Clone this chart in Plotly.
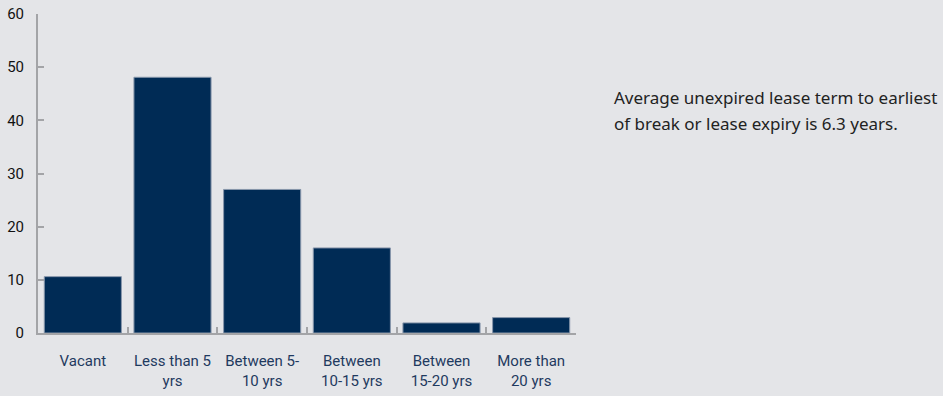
import plotly.graph_objects as go

categories = ["Vacant", "Less than 5<br>yrs", "Between 5-<br>10 yrs", "Between<br>10-15 yrs",
              "Between<br>15-20 yrs", "More than<br>20 yrs"]
values = [10.6, 48.1, 27, 16, 1.9, 2.9]
y_ticks = [0, 10, 20, 30, 40, 50, 60]
note_lines = ["Average unexpired lease term to earliest",
              "of break or lease expiry is 6.3 years."]

bg = "#e4e5e8"
fig = go.Figure(go.Bar(
    x=categories, y=values,
    marker=dict(color="#002b55", line=dict(color="#8796ab", width=1)),
    hoverinfo="skip",
))

fig.update_layout(
    width=943, height=396,
    margin=dict(l=38, r=367, t=14, b=63),
    paper_bgcolor=bg, plot_bgcolor=bg,
    bargap=0.14,
    showlegend=False,
    font=dict(family="Roboto", size=15, color="#111111"),
)
fig.update_xaxes(
    automargin=False,
    showline=True, linecolor="#a3a4a7", linewidth=2,
    ticks="inside", tickson="boundaries", ticklen=6, tickcolor="#a3a4a7", tickwidth=2,
    tickfont=dict(color="#1f3a5f", size=15),
    ticklabelstandoff=13,
    showgrid=False,
)
fig.update_yaxes(
    automargin=False,
    range=[0, 60], tickvals=y_ticks,
    showline=True, linecolor="#a3a4a7", linewidth=2,
    ticks="inside", ticklen=6, tickcolor="#a3a4a7", tickwidth=2,
    tickfont=dict(color="#111111", size=15),
    ticklabelstandoff=9,
    showgrid=False, zeroline=False,
)
for i, line in enumerate(note_lines):
    fig.add_annotation(
        text=line, xref="paper", yref="paper",
        x=1.0, xshift=36, y=0.737, yshift=-26 * i, xanchor="left", yanchor="middle",
        align="left", showarrow=False,
        font=dict(family="Noto Sans", size=17, color="#222222"),
    )
fig.write_html("out.html")
